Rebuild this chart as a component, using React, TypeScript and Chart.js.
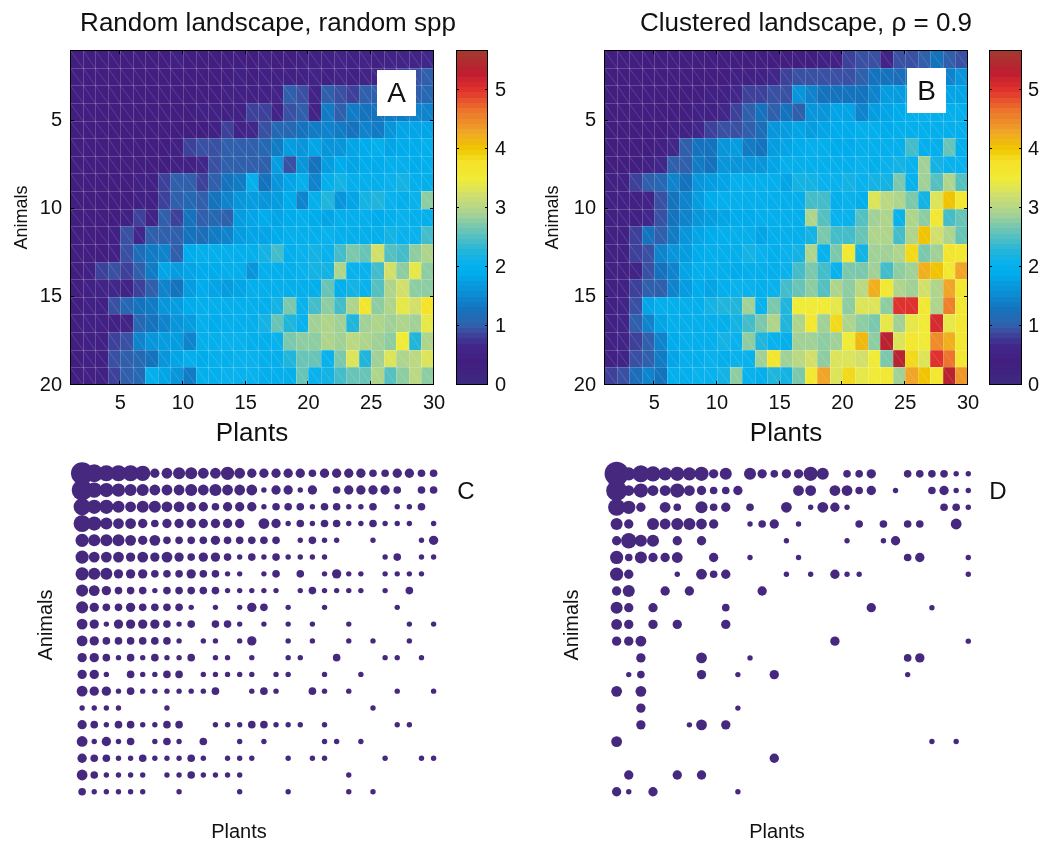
import React, { useEffect, useRef } from 'react';
import { Chart, registerables } from 'chart.js';

Chart.register(...registerables);

const FONT = '"Liberation Sans", Arial, Helvetica, sans-serif';
const TEXT = '#111111';
const DOT = '#46297f';
const COLOR_MAX = 5.68;
const COLOR_LEVELS = 64;

const plantTicks = [5, 10, 15, 20, 25, 30];
const animalTicks = [5, 10, 15, 20];
const colorTicks = [0, 1, 2, 3, 4, 5];

const titleA = 'Random landscape, random spp';
const titleB = 'Clustered landscape, \u03c1 = 0.9';

// Heatmap A: 19 rows (animals 1..20 edges) x 29 columns (plants 1..30 edges)
const heatA: number[][] = [
  [0.4,0.4,0.4,0.4,0.4,0.4,0.4,0.4,0.5,0.4, 0.4,0.4,0.4,0.4,0.4,0.5,0.4,0.4,0.5,0.5, 0.5,0.6,0.5,0.6,0.5,0.6,0.6,0.6,0.7],
  [0.4,0.4,0.4,0.4,0.4,0.4,0.4,0.4,0.4,0.4, 0.4,0.4,0.4,0.5,0.4,0.5,0.5,0.5,0.5,0.6, 0.5,0.6,0.5,0.6,0.6,0.7,0.8,0.9,1.0],
  [0.4,0.4,0.4,0.4,0.4,0.4,0.4,0.4,0.4,0.4, 0.4,0.4,0.5,0.5,0.5,0.5,0.6,1.0,0.9,0.6, 1.0,0.9,0.8,1.0,1.0,1.1,1.0,1.0,1.1],
  [0.4,0.4,0.4,0.4,0.4,0.4,0.4,0.4,0.4,0.4, 0.5,0.5,0.5,0.5,0.8,0.8,0.6,0.9,1.0,0.6, 1.4,1.0,1.4,1.3,1.3,1.4,1.4,1.5,1.5],
  [0.4,0.4,0.4,0.4,0.4,0.4,0.4,0.4,0.4,0.4, 0.4,0.5,0.8,0.6,0.7,0.9,1.1,1.1,1.3,1.4, 1.5,1.4,1.3,1.5,1.4,1.6,1.8,1.8,1.8],
  [0.4,0.4,0.4,0.4,0.4,0.4,0.4,0.4,0.5,0.8, 0.9,0.9,1.0,1.0,1.0,1.1,1.4,1.7,1.6,1.8, 1.6,1.6,1.8,1.9,2.0,1.8,1.9,1.9,2.0],
  [0.4,0.4,0.4,0.4,0.4,0.4,0.4,0.4,0.5,0.5, 0.7,0.9,1.0,1.0,1.0,1.0,1.7,0.9,1.6,1.3, 1.7,1.9,1.8,1.9,1.9,2.0,2.0,1.9,2.0],
  [0.4,0.4,0.4,0.4,0.4,0.5,0.5,0.8,1.0,1.0, 0.8,1.0,1.3,1.4,2.0,1.3,1.6,1.8,2.0,1.5, 2.0,2.2,2.0,2.0,2.0,2.1,2.2,2.0,2.0],
  [0.4,0.4,0.4,0.4,0.4,0.5,0.5,0.8,1.0,1.1, 1.0,1.3,1.5,1.6,1.7,1.6,1.7,1.9,1.5,2.0, 2.3,1.6,1.8,2.2,2.3,2.1,2.0,2.1,2.8],
  [0.4,0.4,0.4,0.4,0.5,0.8,0.6,1.0,0.8,1.3, 1.0,1.1,1.0,1.7,1.8,1.9,1.8,1.9,2.0,1.9, 1.8,2.0,2.0,2.0,1.9,2.0,2.1,2.0,2.0],
  [0.4,0.4,0.4,0.5,0.9,0.7,1.0,1.0,1.0,1.3, 1.2,1.4,1.5,1.7,1.8,1.8,1.9,2.0,2.0,2.0, 2.1,2.0,2.0,2.0,2.0,2.2,2.1,2.1,2.4],
  [0.4,0.4,0.4,0.5,0.9,1.2,1.4,1.5,1.0,1.9, 2.0,2.0,2.0,2.0,2.0,2.2,2.4,2.0,2.1,2.2, 2.1,2.4,2.7,2.6,3.2,2.5,2.4,2.8,3.0],
  [0.4,0.5,0.8,0.9,0.8,1.0,1.4,1.8,1.7,1.8, 1.9,1.9,2.0,2.0,1.6,2.0,2.0,2.0,2.1,2.2, 2.2,3.0,2.1,2.1,2.4,3.2,2.8,3.4,2.8],
  [0.4,0.5,0.6,0.7,0.6,0.8,1.0,1.5,1.3,1.7, 1.9,1.8,1.7,1.8,2.0,2.0,2.0,2.0,2.0,2.0, 2.6,2.0,2.2,2.1,2.5,3.0,3.2,2.8,2.8],
  [0.4,0.5,0.5,0.9,1.1,1.3,1.4,1.6,1.7,1.9, 2.0,2.0,2.0,2.0,2.0,2.0,2.2,2.7,2.1,2.4, 2.8,2.4,3.0,3.7,2.8,3.0,3.4,3.2,3.8],
  [0.4,0.5,0.5,0.5,0.6,1.1,1.3,1.5,1.6,1.7, 2.0,1.9,2.0,2.0,2.0,2.2,2.6,2.3,2.1,2.9, 3.0,2.9,2.3,2.9,3.0,2.9,3.0,2.9,3.4],
  [0.4,0.5,0.5,0.8,0.9,1.5,1.6,1.7,1.7,1.5, 2.0,2.0,2.1,2.1,2.0,2.0,2.1,2.7,2.8,2.8, 3.0,2.9,3.1,3.0,2.9,2.8,3.5,2.3,3.0],
  [0.4,0.5,0.5,0.9,1.0,1.1,1.3,1.6,1.8,2.0, 1.9,2.0,2.0,2.1,2.1,2.0,2.0,2.3,2.6,2.6, 2.1,2.7,3.3,2.3,2.9,3.3,3.0,3.1,3.3],
  [0.4,0.5,0.5,0.8,1.0,1.1,2.0,1.8,1.6,1.4, 2.0,2.0,2.1,2.1,2.1,2.0,2.0,2.0,2.6,2.1, 2.2,2.4,2.6,2.6,3.0,2.5,2.8,3.1,2.8],
];

const heatB: number[][] = [
  [0.4,0.4,0.4,0.4,0.4,0.4,0.4,0.4,0.4,0.4, 0.4,0.4,0.4,0.4,0.4,0.4,0.4,0.5,0.5,0.8, 0.9,0.9,0.6,0.9,0.9,1.0,1.3,1.0,0.9],
  [0.4,0.4,0.4,0.4,0.4,0.4,0.4,0.4,0.4,0.4, 0.5,0.5,0.5,0.7,0.8,0.9,0.9,0.9,0.9,0.9, 1.0,1.3,1.3,1.2,1.3,1.4,1.5,1.5,1.6],
  [0.4,0.4,0.4,0.4,0.4,0.4,0.4,0.4,0.5,0.5, 0.7,0.8,0.8,0.9,0.9,1.6,1.5,1.3,1.3,1.3, 1.3,1.5,1.7,1.7,1.8,1.8,1.8,1.8,1.8],
  [0.4,0.4,0.4,0.4,0.4,0.4,0.4,0.5,0.5,0.7, 0.8,1.0,1.3,1.0,1.3,1.0,1.6,1.6,1.8,1.8, 1.5,1.7,1.8,1.9,2.0,2.0,2.0,2.0,2.0],
  [0.4,0.4,0.4,0.4,0.4,0.5,0.5,0.7,0.8,0.9, 0.9,1.0,1.2,1.6,1.7,1.8,1.7,1.8,1.9,1.9, 2.0,2.0,1.9,2.0,2.0,2.0,2.0,2.0,2.0],
  [0.4,0.4,0.4,0.4,0.5,0.7,1.0,1.3,1.3,1.6, 1.7,1.4,1.3,1.7,1.8,1.9,2.0,2.0,1.9,1.9, 2.0,2.0,2.0,2.0,2.4,2.0,2.0,2.6,2.0],
  [0.4,0.4,0.4,0.5,0.7,1.0,1.0,1.4,1.3,1.6, 1.6,1.6,1.6,1.8,2.0,2.0,2.0,2.0,2.0,2.0, 2.1,2.0,2.1,2.2,2.1,2.9,2.2,2.1,2.1],
  [0.5,0.5,0.8,1.0,1.1,1.5,1.3,1.6,1.7,1.8, 2.0,2.0,2.0,2.0,1.8,2.2,2.2,2.1,2.1,2.2, 2.1,2.2,2.2,2.7,2.1,2.9,2.5,3.0,2.5],
  [0.5,0.5,0.5,0.6,0.9,1.3,1.5,1.7,1.9,2.0, 2.0,2.0,2.0,2.0,2.0,2.0,2.4,2.4,2.0,2.1, 2.0,3.3,3.1,3.0,2.7,2.2,3.3,4.0,3.6],
  [0.5,0.5,0.5,0.7,0.9,1.3,1.5,1.6,1.7,1.8, 1.9,1.9,2.0,2.0,2.0,2.0,3.0,2.5,2.1,2.1, 2.5,2.9,3.0,2.1,3.0,2.8,3.6,2.4,2.6],
  [0.5,0.5,0.8,1.3,1.0,1.4,1.6,1.8,1.9,2.0, 2.0,2.0,1.8,2.0,2.0,2.0,2.2,2.7,2.4,2.4, 2.6,3.0,3.0,2.4,3.0,4.0,3.2,3.0,2.6],
  [0.5,0.5,0.8,0.9,1.5,1.6,1.7,1.9,2.0,2.0, 2.0,2.2,2.1,2.0,2.1,2.2,3.0,2.1,2.7,3.6, 2.2,2.9,2.9,3.0,3.9,2.7,2.9,3.7,3.6],
  [0.5,0.5,0.6,0.9,1.3,1.5,1.8,2.0,2.0,2.0, 1.9,2.0,2.0,2.0,2.1,2.4,2.7,2.4,2.1,2.7, 2.7,2.9,2.4,2.8,2.9,4.2,4.0,3.6,4.3],
  [0.5,0.5,0.8,1.0,1.0,1.5,1.7,1.9,1.8,2.0, 2.1,2.1,2.0,2.1,2.4,2.6,2.8,2.5,3.0,2.8, 3.1,4.2,3.6,3.0,2.9,3.2,3.0,4.3,3.6],
  [0.5,0.6,0.9,1.8,2.0,2.0,2.0,2.0,2.2,2.3, 2.3,2.9,2.1,2.7,2.3,3.5,3.5,3.5,3.4,2.8, 3.3,3.3,2.8,5.0,5.0,3.6,3.0,4.6,3.6],
  [0.5,0.6,1.0,1.5,1.8,2.0,2.0,2.0,2.0,2.0, 2.2,2.4,2.7,3.0,2.3,3.0,3.6,2.9,3.9,3.0, 2.8,2.7,3.4,2.9,3.4,3.5,5.1,3.4,3.6],
  [0.5,0.6,0.8,1.0,1.5,1.9,2.0,2.0,2.0,2.2, 2.1,2.8,2.3,2.1,2.0,2.9,2.9,2.8,2.9,3.5, 4.1,2.8,5.4,3.3,3.6,3.5,4.5,4.2,3.6],
  [0.5,0.6,0.9,1.0,1.4,1.8,2.0,2.0,2.1,2.0, 2.1,2.1,2.9,3.7,2.9,3.1,3.2,2.8,3.3,3.3, 3.2,3.5,2.7,5.4,3.9,3.3,5.0,4.7,3.6],
  [0.8,0.9,1.2,1.5,1.3,2.0,2.0,2.1,2.1,2.2, 2.8,2.1,2.0,2.3,2.2,2.7,3.6,4.3,3.3,3.9, 3.4,3.5,3.6,2.9,4.3,4.0,3.6,5.4,4.4],
];

// Bubble matrices: 20 animals x 30 plants, interaction strength (0 = none)
const bubC: number[][] = [
  [17,11,9,9,9,8,3,4,5,5, 4,4,6,4,3,3,3,3,3,2, 3,3,3,3,2,2,3,3,2,2],
  [15,8,7,6,5,5,4,4,4,5, 4,5,4,4,4,1,3,3,1,3, 0,2,3,3,3,3,2,0,2,2],
  [10,7,7,5,4,5,5,4,4,3, 3,2,3,3,3,1,2,2,2,1, 2,2,1,1,2,0,1,1,2,0],
  [10,7,5,4,4,3,2,3,3,3, 3,3,3,3,0,4,3,1,2,1, 2,2,1,1,2,1,1,1,0,1],
  [6,5,5,5,4,3,4,2,2,2, 2,3,2,2,2,2,2,0,1,2, 1,1,0,0,1,0,0,0,1,3],
  [6,4,4,4,3,4,3,4,3,2, 3,3,2,1,2,1,2,1,1,1, 1,0,0,0,0,1,2,0,1,1],
  [6,5,5,3,3,3,2,2,2,3, 2,2,1,1,0,1,2,0,2,0, 1,3,1,1,0,1,1,1,1,0],
  [5,4,3,2,2,2,1,2,2,2, 2,2,1,1,1,1,1,0,1,2, 1,1,1,1,0,1,0,2,0,0],
  [5,3,2,2,3,2,2,2,2,1, 0,1,0,1,3,2,0,1,0,0, 1,0,0,0,0,0,1,0,0,0],
  [4,3,1,3,3,3,3,2,1,2, 0,2,2,1,0,1,0,1,0,1, 0,0,1,0,0,0,0,1,0,1],
  [4,3,2,2,2,2,2,2,1,0, 1,1,0,1,3,0,0,1,0,1, 0,0,1,0,1,0,0,1,0,0],
  [3,3,2,1,2,1,2,1,1,2, 0,1,1,0,1,0,0,1,1,0, 0,2,0,0,0,1,1,0,1,0],
  [3,3,1,0,2,1,1,2,2,0, 1,1,1,1,1,0,1,1,0,0, 1,0,0,1,0,0,0,0,0,0],
  [4,3,3,1,2,1,1,1,1,1, 1,2,0,0,1,2,1,0,0,2, 1,0,1,0,0,0,1,0,0,1],
  [1,1,1,1,0,0,0,1,0,0, 0,0,0,0,0,0,0,0,0,0, 0,0,0,0,1,0,0,0,0,0],
  [3,2,1,2,2,1,1,2,2,0, 0,1,1,1,2,2,1,1,1,0, 1,0,0,0,0,0,1,1,0,0],
  [4,1,3,1,2,0,1,2,1,0, 2,0,0,1,0,1,0,0,0,0, 1,1,0,1,0,0,0,0,0,0],
  [3,2,2,1,1,2,1,1,1,2, 1,0,1,1,1,0,0,1,0,1, 1,0,0,0,0,1,0,0,1,1],
  [4,2,1,1,1,1,0,1,1,2, 1,1,1,1,0,0,0,0,0,0, 0,0,1,0,0,0,0,0,0,0],
  [2,1,1,1,1,1,0,0,1,0, 0,0,0,1,0,0,0,1,0,0, 0,0,1,0,1,0,0,0,0,0],
];

const bubD: number[][] = [
  [20,6,10,8,6,7,6,7,3,5, 0,5,3,2,3,3,7,5,0,2, 2,3,0,0,2,2,2,2,1,1],
  [15,4,7,4,4,7,4,3,2,2, 3,0,0,0,0,4,4,0,4,4, 2,3,0,1,0,0,2,3,1,1],
  [10,6,3,0,4,2,0,5,2,3, 0,2,0,0,4,0,1,4,3,1, 0,0,0,0,0,0,0,2,2,1],
  [5,3,0,5,4,5,5,4,3,0, 0,1,2,3,0,1,0,0,0,0, 2,0,2,0,2,2,0,0,4,0],
  [3,8,5,5,0,3,0,3,0,0, 0,0,0,0,1,0,0,0,0,1, 0,0,1,3,0,0,0,0,0,0],
  [6,2,5,3,3,4,0,0,3,0, 0,1,0,0,0,1,0,0,0,0, 0,0,0,0,2,3,0,0,0,1],
  [6,3,0,0,0,1,0,4,2,3, 0,0,0,0,1,0,1,0,3,1, 1,0,0,0,0,0,0,0,0,1],
  [3,5,0,0,3,0,3,0,0,0, 0,0,3,0,0,0,0,0,0,0, 0,0,0,0,0,0,0,0,0,0],
  [5,3,0,3,0,0,0,0,0,2, 0,0,0,0,0,0,0,0,0,0, 0,3,0,0,0,0,1,0,0,0],
  [4,3,0,3,0,3,0,0,0,3, 0,0,0,0,0,0,0,0,0,0, 0,0,0,0,0,0,0,0,0,0],
  [3,3,4,0,0,0,0,0,0,0, 0,0,0,0,0,0,0,0,3,0, 0,0,0,0,0,0,0,0,0,1],
  [0,0,3,0,0,0,0,4,0,0, 0,1,0,0,0,0,0,0,0,0, 0,0,0,0,2,3,0,0,0,0],
  [0,1,2,0,0,0,0,3,0,0, 1,0,0,3,0,0,0,0,0,0, 0,0,0,0,1,0,0,0,0,0],
  [4,0,4,0,0,0,0,0,0,0, 0,0,0,0,0,0,0,0,0,0, 0,0,0,0,0,0,0,0,0,0],
  [0,0,3,0,0,0,0,0,0,0, 1,0,0,0,0,0,0,0,0,0, 0,0,0,0,0,0,0,0,0,0],
  [0,0,3,0,0,0,1,4,0,3, 0,0,0,0,0,0,0,0,0,0, 0,0,0,0,0,0,0,0,0,0],
  [4,0,0,0,0,0,0,0,0,0, 0,0,0,0,0,0,0,0,0,0, 0,0,0,0,0,0,1,0,1,0],
  [0,0,0,0,0,0,0,0,0,0, 0,0,0,3,0,0,0,0,0,0, 0,0,0,0,0,0,0,0,0,0],
  [0,3,0,0,0,3,0,3,0,0, 0,0,0,0,0,0,0,0,0,0, 0,0,0,0,0,0,0,0,0,0],
  [3,1,0,3,0,0,0,0,0,0, 1,0,0,0,0,0,0,0,0,0, 0,0,0,0,0,0,0,0,0,0],
];

// colormap stops: [value, r, g, b]
const STOPS: number[][] = [
  [0.0, 61, 42, 128],
  [0.4, 66, 30, 128],
  [0.7, 66, 40, 140],
  [0.9, 60, 75, 160],
  [1.05, 45, 100, 175],
  [1.3, 20, 115, 190],
  [1.6, 10, 145, 215],
  [1.9, 0, 172, 235],
  [2.1, 10, 178, 236],
  [2.3, 40, 182, 215],
  [2.6, 100, 195, 185],
  [2.9, 165, 210, 150],
  [3.2, 205, 222, 115],
  [3.5, 240, 235, 55],
  [3.8, 245, 225, 40],
  [4.0, 240, 200, 0],
  [4.3, 240, 165, 40],
  [4.7, 235, 110, 45],
  [5.0, 225, 50, 45],
  [5.3, 190, 30, 50],
  [5.68, 160, 58, 45],
];

function lerpColor(v: number): string {
  const s = STOPS;
  if (v <= s[0][0]) return `rgb(${s[0][1]},${s[0][2]},${s[0][3]})`;
  for (let i = 1; i < s.length; i++) {
    if (v <= s[i][0]) {
      const a = s[i - 1];
      const b = s[i];
      const t = (v - a[0]) / (b[0] - a[0]);
      const r = Math.round(a[1] + (b[1] - a[1]) * t);
      const g = Math.round(a[2] + (b[2] - a[2]) * t);
      const bl = Math.round(a[3] + (b[3] - a[3]) * t);
      return `rgb(${r},${g},${bl})`;
    }
  }
  const l = s[s.length - 1];
  return `rgb(${l[1]},${l[2]},${l[3]})`;
}

function colorFor(v: number): string {
  let i = Math.floor((v / COLOR_MAX) * COLOR_LEVELS);
  i = Math.max(0, Math.min(COLOR_LEVELS - 1, i));
  return lerpColor(((i + 0.5) * COLOR_MAX) / COLOR_LEVELS);
}

type Txt = {
  text?: string;
  x?: number;
  y?: number;
  size?: number;
  rotate?: boolean;
  box?: [number, number, number, number];
};

function textPlugin(items: Txt[]) {
  return {
    id: 'panelText',
    afterDraw(chart: any) {
      const ctx = chart.ctx as CanvasRenderingContext2D;
      for (const t of items) {
        ctx.save();
        if (t.box) {
          ctx.fillStyle = '#ffffff';
          ctx.fillRect(t.box[0], t.box[1], t.box[2], t.box[3]);
        }
        if (t.text) {
          ctx.fillStyle = TEXT;
          ctx.font = `${t.size}px ${FONT}`;
          ctx.textAlign = 'center';
          if (t.rotate) {
            ctx.textBaseline = 'middle';
            ctx.translate(t.x as number, t.y as number);
            ctx.rotate(-Math.PI / 2);
            ctx.fillText(t.text, 0, 0);
          } else {
            ctx.textBaseline = 'alphabetic';
            ctx.fillText(t.text, t.x as number, t.y as number);
          }
        }
        ctx.restore();
      }
    },
  };
}

function heatPlugin(barX: [number, number]) {
  return {
    id: 'heatCells',
    beforeDatasetsDraw(chart: any) {
      const { ctx, scales } = chart;
      const xs = scales.x;
      const ys = scales.y;
      const pts = chart.data.datasets[0].data as { x: number; y: number; v: number }[];
      ctx.save();
      for (const p of pts) {
        const x0 = Math.round(xs.getPixelForValue(p.x - 0.5));
        const x1 = Math.round(xs.getPixelForValue(p.x + 0.5));
        const y0 = Math.round(ys.getPixelForValue(p.y - 0.5));
        const y1 = Math.round(ys.getPixelForValue(p.y + 0.5));
        ctx.fillStyle = colorFor(p.v);
        ctx.fillRect(x0, y0, x1 - x0, y1 - y0);
      }
      // faint mesh edges and diagonals
      ctx.lineWidth = 1;
      ctx.strokeStyle = 'rgba(255,255,255,0.2)';
      ctx.beginPath();
      for (const p of pts) {
        const x0 = Math.round(xs.getPixelForValue(p.x - 0.5)) + 0.5;
        const x1 = Math.round(xs.getPixelForValue(p.x + 0.5)) + 0.5;
        const y0 = Math.round(ys.getPixelForValue(p.y - 0.5)) + 0.5;
        const y1 = Math.round(ys.getPixelForValue(p.y + 0.5)) + 0.5;
        ctx.moveTo(x0, y0);
        ctx.lineTo(x1, y0);
        ctx.moveTo(x0, y0);
        ctx.lineTo(x0, y1);
      }
      ctx.stroke();
      ctx.strokeStyle = 'rgba(255,255,255,0.14)';
      ctx.beginPath();
      for (const p of pts) {
        const x0 = Math.round(xs.getPixelForValue(p.x - 0.5));
        const x1 = Math.round(xs.getPixelForValue(p.x + 0.5));
        const y0 = Math.round(ys.getPixelForValue(p.y - 0.5));
        const y1 = Math.round(ys.getPixelForValue(p.y + 0.5));
        ctx.moveTo(x0, y0);
        ctx.lineTo(x1, y1);
      }
      ctx.stroke();
      ctx.restore();
    },
    afterDatasetsDraw(chart: any) {
      const { ctx, chartArea: a, scales } = chart;
      const xs = scales.x;
      const ys = scales.y;
      const cs = scales.y2;
      ctx.save();
      ctx.strokeStyle = '#000000';
      ctx.lineWidth = 1;
      const L = Math.round(a.left);
      const R = Math.round(a.right);
      const T = Math.round(a.top);
      const B = Math.round(a.bottom);
      ctx.beginPath();
      for (const v of plantTicks) {
        const px = Math.round(xs.getPixelForValue(v)) - 0.5;
        ctx.moveTo(px, B);
        ctx.lineTo(px, B - 4);
        ctx.moveTo(px, T);
        ctx.lineTo(px, T + 4);
      }
      for (const v of animalTicks) {
        const py = Math.round(ys.getPixelForValue(v)) - 0.5;
        ctx.moveTo(L, py);
        ctx.lineTo(L + 4, py);
        ctx.moveTo(R, py);
        ctx.lineTo(R - 4, py);
      }
      ctx.stroke();
      ctx.strokeRect(L + 0.5, T + 0.5, R - L - 1, B - T - 1);

      // colour bar
      const [bx0, bx1] = barX;
      for (let i = 0; i < COLOR_LEVELS; i++) {
        const v0 = (i * COLOR_MAX) / COLOR_LEVELS;
        const v1 = ((i + 1) * COLOR_MAX) / COLOR_LEVELS;
        const yTop = Math.floor(cs.getPixelForValue(v1));
        const yBot = Math.ceil(cs.getPixelForValue(v0));
        ctx.fillStyle = colorFor((v0 + v1) / 2);
        ctx.fillRect(bx0, yTop, bx1 - bx0, yBot - yTop);
      }
      const cT = Math.round(cs.top);
      const cB = Math.round(cs.bottom);
      ctx.strokeRect(bx0 + 0.5, cT + 0.5, bx1 - bx0 - 1, cB - cT - 1);
      ctx.beginPath();
      for (const v of colorTicks) {
        const py = Math.round(cs.getPixelForValue(v)) - 0.5;
        ctx.moveTo(bx0, py);
        ctx.lineTo(bx0 + 3, py);
        ctx.moveTo(bx1, py);
        ctx.lineTo(bx1 - 3, py);
      }
      ctx.stroke();
      ctx.restore();
    },
  };
}

function cellPoints(cells: number[][]) {
  const out: { x: number; y: number; v: number }[] = [];
  cells.forEach((row, r) => row.forEach((v, c) => out.push({ x: c + 1.5, y: r + 1.5, v })));
  return out;
}

function bubblePoints(m: number[][]) {
  const out: { x: number; y: number; r: number }[] = [];
  m.forEach((row, r) =>
    row.forEach((v, c) => {
      if (v > 0) out.push({ x: c + 1, y: r + 1, r: 2.7 * Math.sqrt(v) });
    })
  );
  return out;
}

const tickFont = { family: FONT, size: 20 };

function fixVertical(width: number) {
  return (s: any) => {
    s.width = width;
    s.paddingTop = 0;
    s.paddingBottom = 0;
  };
}

function heatConfig(
  cells: number[][],
  o: { yWidth: number; y2Width: number; y2Pad: number; animalsPad: number; barX: [number, number]; texts: Txt[] }
): any {
  return {
    type: 'scatter',
    data: { datasets: [{ data: cellPoints(cells), pointRadius: 0, pointHoverRadius: 0, showLine: false }] },
    options: {
      responsive: false,
      animation: false,
      devicePixelRatio: 1,
      events: [],
      layout: { padding: { left: 0, right: 0, top: 50, bottom: 0 } },
      plugins: { legend: { display: false }, tooltip: { enabled: false }, title: { display: false } },
      scales: {
        x: {
          type: 'linear',
          position: 'bottom',
          min: 1,
          max: 30,
          afterBuildTicks: (s: any) => {
            s.ticks = plantTicks.map((v) => ({ value: v }));
          },
          afterFit: (s: any) => {
            s.height = 65;
            s.paddingLeft = 0;
            s.paddingRight = 0;
          },
          grid: { display: false, drawTicks: false },
          border: { display: false },
          ticks: { font: tickFont, color: TEXT, padding: 6, maxRotation: 0, autoSkip: false },
          title: { display: true, text: 'Plants', color: TEXT, font: { family: FONT, size: 26 }, padding: { top: 0, bottom: 1 } },
        },
        y: {
          type: 'linear',
          position: 'left',
          reverse: true,
          min: 1,
          max: 20,
          afterBuildTicks: (s: any) => {
            s.ticks = animalTicks.map((v) => ({ value: v }));
          },
          afterFit: fixVertical(o.yWidth),
          grid: { display: false, drawTicks: false },
          border: { display: false },
          ticks: { font: tickFont, color: TEXT, padding: 8, autoSkip: false },
          title: { display: true, text: 'Animals', color: TEXT, font: { family: FONT, size: 18 }, padding: { top: o.animalsPad, bottom: 0 } },
        },
        y2: {
          type: 'linear',
          position: 'right',
          min: 0,
          max: COLOR_MAX,
          afterBuildTicks: (s: any) => {
            s.ticks = colorTicks.map((v) => ({ value: v }));
          },
          afterFit: fixVertical(o.y2Width),
          grid: { display: false, drawTicks: false },
          border: { display: false },
          ticks: { font: tickFont, color: TEXT, padding: o.y2Pad, autoSkip: false },
        },
      },
    },
    plugins: [heatPlugin(o.barX), textPlugin(o.texts)],
  };
}

function bubbleConfig(m: number[][], pad: { left: number; right: number; top: number; bottom: number }, texts: Txt[]): any {
  return {
    type: 'bubble',
    data: {
      datasets: [
        {
          data: bubblePoints(m),
          backgroundColor: DOT,
          borderWidth: 0,
          hoverRadius: 0,
          hoverBorderWidth: 0,
          clip: false,
        },
      ],
    },
    options: {
      responsive: false,
      animation: false,
      devicePixelRatio: 1,
      events: [],
      layout: { padding: pad },
      plugins: { legend: { display: false }, tooltip: { enabled: false } },
      scales: {
        x: { type: 'linear', min: 0, max: 30, display: false },
        y: { type: 'linear', min: 0, max: 21, reverse: true, display: false },
      },
    },
    plugins: [textPlugin(texts)],
  };
}

export default function App() {
  const refA = useRef<HTMLCanvasElement>(null);
  const refB = useRef<HTMLCanvasElement>(null);
  const refC = useRef<HTMLCanvasElement>(null);
  const refD = useRef<HTMLCanvasElement>(null);

  useEffect(() => {
    const charts: Chart[] = [];
    charts.push(
      new Chart(
        refA.current as HTMLCanvasElement,
        heatConfig(heatA, {
          yWidth: 70,
          y2Width: 106,
          y2Pad: 61,
          animalsPad: 11,
          barX: [456, 488],
          texts: [
            { text: titleA, x: 268, y: 31, size: 26 },
            { box: [377, 70, 39, 46] },
            { text: 'A', x: 396.5, y: 102, size: 28 },
          ],
        })
      )
    );
    charts.push(
      new Chart(
        refB.current as HTMLCanvasElement,
        heatConfig(heatB, {
          yWidth: 74,
          y2Width: 74,
          y2Pad: 60,
          animalsPad: 12,
          barX: [459, 492],
          texts: [
            { text: titleB, x: 276, y: 31, size: 26 },
            { box: [377, 68, 39, 45] },
            { text: 'B', x: 396.5, y: 100, size: 28 },
          ],
        })
      )
    );
    charts.push(
      new Chart(
        refC.current as HTMLCanvasElement,
        bubbleConfig(bubC, { left: 70, right: 96.4, top: 11.5, bottom: 35.5 }, [
          { text: 'C', x: 466, y: 54, size: 24 },
          { text: 'Animals', x: 46, y: 180, size: 20, rotate: true },
          { text: 'Plants', x: 239, y: 393, size: 20 },
        ])
      )
    );
    charts.push(
      new Chart(
        refD.current as HTMLCanvasElement,
        bubbleConfig(bubD, { left: 74.5, right: 73.7, top: 11.5, bottom: 35.5 }, [
          { text: 'D', x: 468, y: 54, size: 24 },
          { text: 'Animals', x: 42, y: 180, size: 20, rotate: true },
          { text: 'Plants', x: 247, y: 393, size: 20 },
        ])
      )
    );
    return () => charts.forEach((c) => c.destroy());
  }, []);

  const abs = (left: number, top: number): React.CSSProperties => ({ position: 'absolute', left, top });

  return (
    <div style={{ position: 'absolute', left: 0, top: 0, width: 1042, height: 844, background: '#ffffff', overflow: 'hidden' }}>
      <canvas ref={refA} width={540} height={450} style={abs(0, 0)} />
      <canvas ref={refB} width={512} height={450} style={abs(530, 0)} />
      <canvas ref={refC} width={530} height={399} style={abs(0, 445)} />
      <canvas ref={refD} width={512} height={399} style={abs(530, 445)} />
    </div>
  );
}
